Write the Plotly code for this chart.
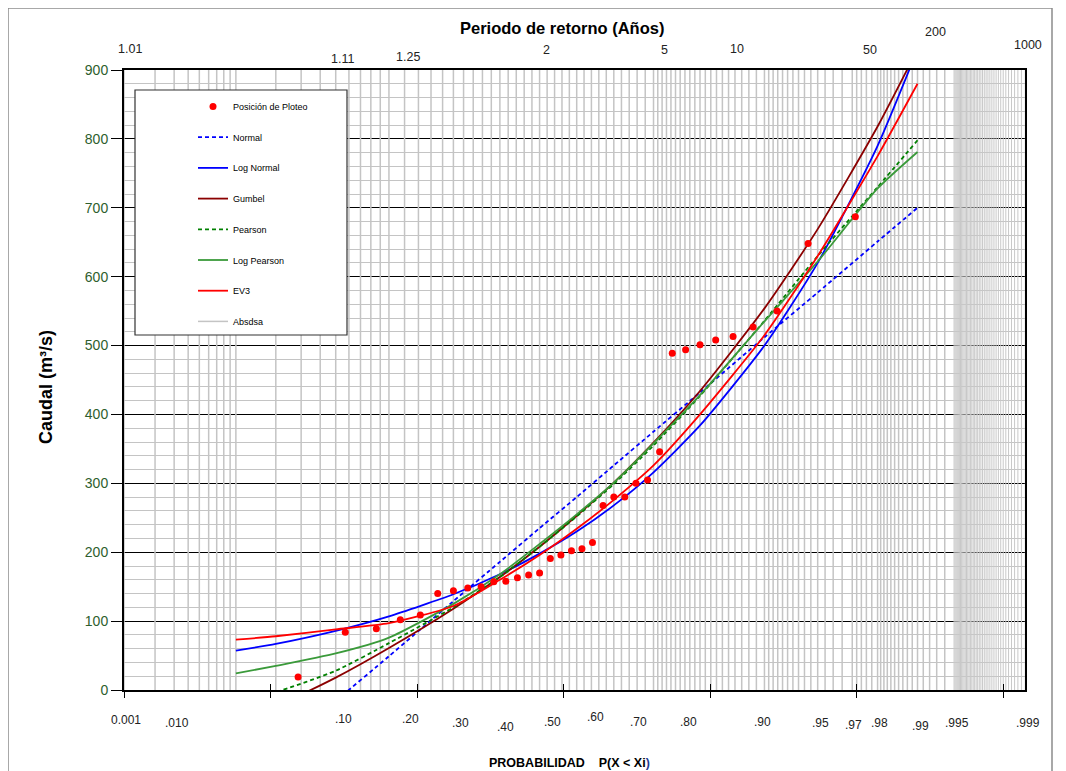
import plotly.graph_objects as go
from statistics import NormalDist

ND = NormalDist()


def zval(p):
    return ND.inv_cdf(p)


# ---------------- data ----------------
# plotting positions (Weibull m/(n+1), n = 34)
PP_PROB = [0.0286, 0.0571, 0.0857, 0.1143, 0.1429, 0.1714, 0.2000, 0.2286, 0.2571,
           0.2857, 0.3143, 0.3429, 0.3714, 0.4000, 0.4286, 0.4571, 0.4857, 0.5143,
           0.5429, 0.5714, 0.6000, 0.6286, 0.6571, 0.6857, 0.7143, 0.7429, 0.7714,
           0.8000, 0.8286, 0.8571, 0.8857, 0.9143, 0.9429, 0.9714]
PP_Q = [19, 84, 89, 102, 109, 140, 144, 148, 150, 157, 158, 163, 167, 170, 191, 196,
        202, 205, 214, 268, 280, 280, 300, 305, 346, 489, 494, 501, 508, 513, 527,
        550, 648, 687]

# fitted distributions, read at these probabilities
CURVE_PROB = [0.01, 0.02, 0.05, 0.10, 0.20, 0.30, 0.40, 0.50, 0.60, 0.70, 0.80,
              0.90, 0.95, 0.98, 0.99]
Q_NORMAL = [-139, -90, -16, 49, 129, 186, 235, 280, 326, 375, 432, 512, 577, 651, 700]
Q_LOGNORMAL = [57, 67, 86, 107, 139, 168, 198, 230, 268, 316, 384, 500, 620, 790, 930]
Q_GUMBEL = [-50, -24, 18, 61, 118, 164, 208, 253, 301, 359, 434, 554, 669, 818, 930]
Q_PEARSON = [-15, -3, 28, 68, 120, 164, 208, 252, 299, 355, 427, 536, 630, 730, 798]
Q_LOGPEARSON = [24, 35, 53, 76, 125, 168, 212, 255, 301, 358, 428, 535, 622, 728, 781]
Q_EV3 = [73, 78, 88, 97, 122, 160, 196, 234, 276, 326, 400, 515, 630, 775, 880]

# probability grid (start, stop, step); the last segment is the dense band
GRID_SEGMENTS = [(0.001, 0.010, 0.001), (0.01, 0.10, 0.01), (0.10, 0.70, 0.02),
                 (0.70, 0.90, 0.01), (0.90, 0.97, 0.005), (0.97, 0.98, 0.002),
                 (0.98, 0.99, 0.001), (0.99, 0.995, 0.001)]
GRID_DENSE = (0.995, 0.999, 0.0001)

TOP_LABELS = ["1.01", "1.11", "1.25", "2", "5", "10", "50", "200", "1000"]
BOT_LABELS = ["0.001", ".010", ".10", ".20", ".30", ".40", ".50", ".60", ".70", ".80",
              ".90", ".95", ".97", ".98", ".99", ".995", ".999"]

# label placement (screen pixel positions as in the original sheet)
TOP_POS = [(130, 49), (342, 59), (408, 57), (546, 50), (664, 50), (737, 49), (870, 50),
           (935, 32), (1028, 45)]
BOT_POS = [(126, 720), (177, 723), (343, 719), (410, 719), (460, 723), (505, 727),
           (552, 722), (595, 717), (638, 722), (688, 722), (762, 722), (820, 723),
           (853, 725), (879, 723), (920, 726), (957, 723), (1028, 723)]

# ---------------- layout geometry ----------------
OFF = 8                      # page body margin of the html page
SCR_W, SCR_H = 1066, 771
PL, PR, PT, PB = 124, 1025, 70, 690   # plot area on screen
W, H = SCR_W - OFF, SCR_H - OFF


def px(xp):
    return (xp - PL) / (PR - PL)


def py(yp):
    return (PB - yp) / (PB - PT)


FONT = "Arial, Liberation Sans, sans-serif"


def grid_xy(segments, close=None):
    ps = []
    for a, b, s in segments:
        n = int(round((b - a) / s))
        for k in range(n):
            ps.append(round(a + k * s, 6))
    if close is not None:
        ps.append(close)
    xs, ys = [], []
    for p in ps:
        zz = zval(p)
        xs += [zz, zz, None]
        ys += [0, 900, None]
    return xs, ys


gx, gy = grid_xy(GRID_SEGMENTS)
gx2, gy2 = grid_xy([GRID_DENSE], close=GRID_DENSE[1])

zc = [zval(p) for p in CURVE_PROB]

fig = go.Figure()
fig.add_trace(go.Scatter(x=gx, y=gy, mode="lines", name="Absdsa",
                         line=dict(color="#c4c4c4", width=1.5), legendrank=8,
                         legendgroup="g8", hoverinfo="skip"))
fig.add_trace(go.Scatter(x=gx2, y=gy2, mode="lines", name="Absdsa",
                         line=dict(color="#c8c8c8", width=1), showlegend=False,
                         legendgroup="g8", hoverinfo="skip"))

curves = [
    ("Normal", Q_NORMAL, "#0000ff", "4px,3px", 2),
    ("Log Normal", Q_LOGNORMAL, "#0000ff", "solid", 3),
    ("Gumbel", Q_GUMBEL, "#8b0000", "solid", 4),
    ("Pearson", Q_PEARSON, "#008000", "4px,3px", 5),
    ("Log Pearson", Q_LOGPEARSON, "#3a9a3a", "solid", 6),
    ("EV3", Q_EV3, "#ff0000", "solid", 7),
]
for name, q, col, dash, rank in curves:
    fig.add_trace(go.Scatter(x=zc, y=q, mode="lines", name=name,
                             line=dict(color=col, width=1.8, dash=dash, shape="spline",
                                       smoothing=0.6),
                             legendrank=rank, legendgroup=f"g{rank}"))

fig.add_trace(go.Scatter(x=[zval(p) for p in PP_PROB], y=PP_Q, mode="markers",
                         name="Posición de Ploteo",
                         marker=dict(color="#ff0000", size=7), legendrank=1,
                         legendgroup="g1"))

# helper trace for the inner half of the crossing x ticks
fig.add_trace(go.Scatter(x=[None], y=[None], xaxis="x2", showlegend=False,
                         hoverinfo="skip"))

ann = []
for t, (x, y) in zip(TOP_LABELS, TOP_POS):
    ann.append(dict(text=t, x=px(x), y=py(y), xref="paper", yref="paper",
                    showarrow=False, xanchor="center", yanchor="middle",
                    font=dict(family=FONT, size=12.5, color="#222")))
for t, (x, y) in zip(BOT_LABELS, BOT_POS):
    ann.append(dict(text=t, x=px(x), y=py(y), xref="paper", yref="paper",
                    showarrow=False, xanchor="center", yanchor="middle",
                    font=dict(family=FONT, size=12, color="#222")))
ann.append(dict(text="<b>Periodo de retorno (Años)</b>", x=px(562), y=py(28),
                xref="paper", yref="paper", showarrow=False, xanchor="center",
                yanchor="middle", font=dict(family=FONT, size=16.5, color="#000")))
ann.append(dict(text="<b>PROBABILIDAD&nbsp;&nbsp;&nbsp;&nbsp;P(X &lt; Xi<span style='color:#1f3a93'>)</span></b>",
                x=px(487), y=py(763), xref="paper", yref="paper", showarrow=False,
                xanchor="left", yanchor="middle",
                font=dict(family=FONT, size=12.5, color="#000")))
ann.append(dict(text="<b>Caudal (m³/s)</b>", x=px(46), y=py(387), xref="paper",
                yref="paper", showarrow=False, textangle=-90, xanchor="center",
                yanchor="middle", font=dict(family=FONT, size=18, color="#000")))

shapes = [
    dict(type="rect", xref="paper", yref="paper", x0=px(135), x1=px(347), y0=py(335),
         y1=py(90), fillcolor="white", line=dict(color="#333", width=1.2),
         layer="above"),
    dict(type="rect", xref="paper", yref="paper", x0=px(8), x1=px(1052), y0=py(790),
         y1=py(8), fillcolor="rgba(0,0,0,0)", line=dict(color="#8c8c8c", width=1.5),
         layer="below"),
]

XR = [-3.09, 3.06]
fig.update_layout(
    width=W, height=H,
    margin=dict(l=PL - OFF, r=SCR_W - PR, t=PT - OFF, b=SCR_H - PB, pad=0),
    paper_bgcolor="white", plot_bgcolor="white",
    font=dict(family=FONT, color="#000"),
    showlegend=True,
    legend=dict(x=px(193), y=py(92), xanchor="left", yanchor="top",
                bgcolor="rgba(0,0,0,0)", borderwidth=0, tracegroupgap=11.7,
                font=dict(family=FONT, size=9, color="#000"), itemwidth=30),
    annotations=ann, shapes=shapes,
    xaxis=dict(range=XR, showgrid=False, zeroline=False,
               showticklabels=False, ticks="outside", ticklen=6, tick0=-3.09,
               dtick=1, tickcolor="#000", showline=True, linecolor="#000",
               linewidth=2, mirror=True),
    xaxis2=dict(range=XR, overlaying="x", side="bottom", showgrid=False,
                zeroline=False, showticklabels=False, ticks="inside", ticklen=6,
                tick0=-3.09, dtick=1, tickcolor="#000", showline=False),
    yaxis=dict(range=[0, 900], dtick=100, showgrid=True, gridcolor="#000",
               gridwidth=1, zeroline=False, ticks="outside", ticklen=11,
               tickcolor="#000", showline=True, linecolor="#000", linewidth=2,
               mirror=True, tickfont=dict(family=FONT, size=14, color="#2e5e2e"),
               minor=dict(dtick=20, showgrid=True, gridcolor="#c4c4c4",
                          gridwidth=1)),
)

fig.write_html("out.html")
